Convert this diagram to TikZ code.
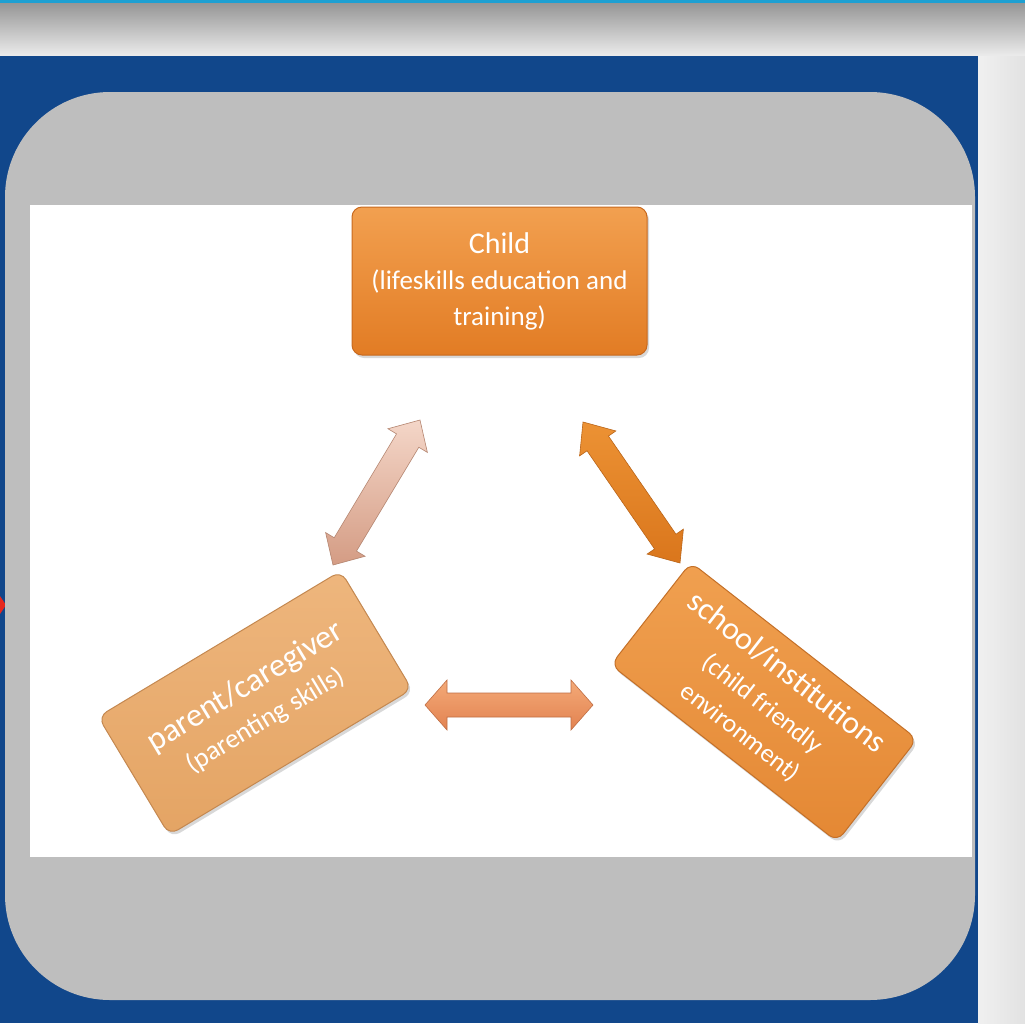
\documentclass[tikz,border=0pt]{standalone}
\usepackage{fontspec}
\setmainfont{Carlito}
\usetikzlibrary{calc,shadows}
\definecolor{topcyan}{RGB}{30,160,210}
\definecolor{stripdark}{RGB}{150,150,150}
\definecolor{striplight}{RGB}{236,236,236}
\definecolor{sidegray}{RGB}{240,240,240}
\definecolor{sidedark}{RGB}{226,226,226}
\definecolor{slideblue}{RGB}{17,71,139}
\definecolor{panelgray}{RGB}{190,190,190}
\definecolor{childtop}{RGB}{242,160,80}
\definecolor{childbot}{RGB}{226,124,36}
\definecolor{childedge}{RGB}{200,105,30}
\definecolor{parenttop}{RGB}{238,182,125}
\definecolor{parentbot}{RGB}{228,164,100}
\definecolor{parentedge}{RGB}{196,136,80}
\definecolor{schooltop}{RGB}{240,160,80}
\definecolor{schoolbot}{RGB}{228,136,52}
\definecolor{schooledge}{RGB}{196,112,40}
\definecolor{arrLtop}{RGB}{244,214,200}
\definecolor{arrLbot}{RGB}{212,156,132}
\definecolor{arrRtop}{RGB}{236,146,52}
\definecolor{arrRbot}{RGB}{218,118,28}
\definecolor{arrBtop}{RGB}{244,170,120}
\definecolor{arrBbot}{RGB}{226,130,80}
\definecolor{markred}{RGB}{230,40,30}
\newcommand{\dblarrow}[6]{%
  \path coordinate (h1) at ($(#1)!#5!(#2)$) coordinate (h2) at ($(#2)!#5!(#1)$);
  \path[#6] (#1) -- ($(h1)!#4!90:(#2)$) -- ($(h1)!#3!90:(#2)$) -- ($(h2)!#3!-90:(#1)$)
    -- ($(h2)!#4!-90:(#1)$) -- (#2) -- ($(h2)!#4!90:(#1)$) -- ($(h2)!#3!90:(#1)$)
    -- ($(h1)!#3!-90:(#2)$) -- ($(h1)!#4!-90:(#2)$) -- cycle;
}
\begin{document}
\begin{tikzpicture}[x=1pt,y=-1pt,
  box/.style={rounded corners=10pt, line width=1pt, text=white, align=center,
    drop shadow={opacity=0.3, shadow xshift=2pt, shadow yshift=-3pt}}]
\useasboundingbox (0,0) rectangle (1025,1023);
% frame
\shade[top color=stripdark, bottom color=striplight] (0,3) rectangle (1025,56);
\fill[topcyan] (0,0) rectangle (1025,3);
\shade[left color=sidegray, right color=sidedark] (978,56) rectangle (1025,1023);
\fill[slideblue] (0,56) rectangle (978,1023);
\fill[markred] (0,596) -- (6,605) -- (0,614) -- cycle;
\fill[panelgray, rounded corners=105pt] (5,92) rectangle (975,1000);
\fill[white] (30,205) rectangle (972,857);
% arrows
\coordinate (lA) at (420,420);
\coordinate (lB) at (333,565);
\coordinate (rA) at (583,422);
\coordinate (rB) at (680,563);
\coordinate (bA) at (425,705);
\coordinate (bB) at (593,705);
\dblarrow{lA}{lB}{13pt}{23pt}{24pt}{top color=arrLtop, bottom color=arrLbot, draw=arrLbot!85!black, line width=0.6pt}
\dblarrow{rA}{rB}{13pt}{22pt}{26pt}{top color=arrRtop, bottom color=arrRbot, draw=arrRbot!85!black, line width=0.6pt}
\dblarrow{bA}{bB}{12pt}{25pt}{22pt}{top color=arrBtop, bottom color=arrBbot, draw=arrBbot!85!black, line width=0.6pt}
% boxes
\node[box, top color=childtop, bottom color=childbot, draw=childedge,
  minimum width=295pt, minimum height=148pt, font=\fontsize{27}{36}\selectfont] (child) at (499.5,281)
  {{\fontsize{30}{36}\selectfont Child}\\
   (lifeskills education and\\
   training)};
\node[box, top color=parenttop, bottom color=parentbot, draw=parentedge,
  minimum width=283pt, minimum height=138pt, rotate=31, font=\fontsize{27}{38}\selectfont] (parent) at (255,703)
  {{\fontsize{33}{38}\selectfont parent/caregiver}\\
   (parenting skills)};
\node[box, top color=schooltop, bottom color=schoolbot, draw=schooledge,
  minimum width=287pt, minimum height=130pt, rotate=-38, font=\fontsize{26}{36}\selectfont] (school) at (764,702)
  {{\fontsize{32}{38}\selectfont school/institutions}\\[2pt]
   (child friendly\\
   environment)};
\end{tikzpicture}
\end{document}
